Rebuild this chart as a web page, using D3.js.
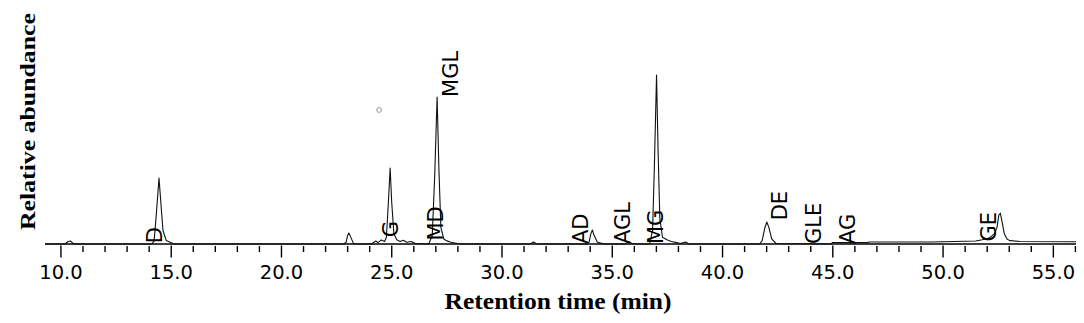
<!DOCTYPE html>
<html>
<head>
<meta charset="utf-8">
<script src="https://cdn.jsdelivr.net/npm/d3@7"></script>
<style>
    body { margin: 0; background: #fff; }
    svg { display: block; }
</style>
</head>
<body>
<svg id="chart"></svg>
<script>
// retention time (min) and relative abundance
const TIMES = [
    9.3, 10.2, 10.35, 10.45, 10.6,
    14.15, 14.25, 14.35, 14.47, 14.55, 14.65, 14.8, 15.15,
    22.85, 22.95, 23.02, 23.08, 23.15, 23.28, 23.4,
    24.1, 24.3, 24.4, 24.55, 24.7, 24.78, 24.86, 24.95, 25.02, 25.12, 25.25, 25.4, 25.55, 25.7, 25.9, 26.1,
    26.7, 26.86, 26.97, 27.08, 27.16, 27.25, 27.38, 27.5, 27.7, 28.0, 28.3,
    31.3, 31.45, 31.6,
    33.85, 33.97, 34.05, 34.12, 34.2, 34.35, 34.5, 34.7,
    35.6, 35.78, 35.95,
    36.72, 36.85, 36.93, 37.03, 37.1, 37.18, 37.3, 37.5, 37.7, 37.95, 38.1, 38.35, 38.5,
    41.7, 41.82, 41.93, 42.03, 42.12, 42.25, 42.45,
    44.95, 45.0, 46.6, 46.7, 49.5, 50.5, 51.5, 51.8, 52.1, 52.35, 52.47, 52.55, 52.62, 52.7, 52.8,
    52.92, 53.05, 53.5, 56.05
];

const ABUNDANCE = [
    0, 0, 1.5, 1.8, 0,
    0, 2, 18, 39, 25, 8, 2, 0,
    0, 1, 5, 6.5, 4.5, 0.5, 0,
    0, 1.8, 0.8, 2.4, 1.5, 4, 22, 45, 25, 6, 2.5, 1.5, 2.2, 1, 1.5, 0.3,
    0, 5, 40, 87, 45, 10, 3, 2, 1, 0.3, 0,
    0, 1.2, 0,
    0, 1, 6, 8.3, 5, 1, 0.5, 0,
    0, 1.4, 0,
    0, 8, 45, 100, 55, 15, 4, 2.5, 1.5, 0.8, 0.3, 1.2, 0,
    0, 2, 9, 13, 10, 3, 0.3,
    0, 0.8, 0.8, 1.2, 1.2, 1.5, 1.8, 2.5, 3.5, 6, 10, 17, 18.2, 13, 6,
    3, 2, 1.5, 1.3
];

// peak annotations: name, retention time, abundance where the label starts
const PEAK_NAMES = ["D", "G", "MD", "MGL", "AD", "AGL", "MG", "DE", "GLE", "AG", "GE"];
const PEAK_TIMES = [14.24, 24.96, 27.02, 27.7, 33.6, 35.48, 37.0, 42.6, 44.13, 45.68, 52.07];
const PEAK_BASES = [0.5, 4, 2, 87, 0, 0, 0, 14, 0, 0, 1.5];

const MAJOR_TICKS = [10, 15, 20, 25, 30, 35, 40, 45, 50, 55];
const TICK_LABELS = ["10.0", "15.0", "20.0", "25.0", "30.0", "35.0", "40.0", "45.0", "50.0", "55.0"];
const MINOR_TICKS = [11, 12, 13, 14, 16, 17, 18, 19, 21, 22, 23, 24, 26, 27, 28, 29,
    31, 32, 33, 34, 36, 37, 38, 39, 41, 42, 43, 44, 46, 47, 48, 49, 51, 52, 53, 54, 56];

// stray marker in the plot area
const MARKER = { time: 24.45, value: 79.3 };

const WIDTH = 1084;
const HEIGHT = 323;
const AXIS_Y = 244;

window.onload = function() {
    drawChart();
}

function drawChart() {
    var svg = d3.select("#chart")
        .attr("width", WIDTH)
        .attr("height", HEIGHT);

    var x = d3.scaleLinear().domain([9.3, 56.05]).range([45, 1076]);
    var y = d3.scaleLinear().domain([0, 100]).range([AXIS_Y, 75]);

    var points = TIMES.map(function(t, i) { return [t, ABUNDANCE[i]]; });

    // axis line
    svg.append("line")
        .attr("x1", x.range()[0])
        .attr("x2", x.range()[1])
        .attr("y1", AXIS_Y)
        .attr("y2", AXIS_Y)
        .attr("stroke", "#000")
        .attr("stroke-width", 1.4);

    // major ticks + labels
    var major = svg.append("g")
        .attr("transform", "translate(0," + (AXIS_Y + 1.5) + ")")
        .call(d3.axisBottom(x)
            .tickValues(MAJOR_TICKS)
            .tickSize(12)
            .tickFormat(function(d, i) { return TICK_LABELS[i]; }));
    major.select(".domain").remove();
    major.selectAll(".tick line")
        .attr("stroke", "#000")
        .attr("stroke-width", 1.4);
    major.selectAll(".tick text")
        .attr("y", 33)
        .attr("dy", 0)
        .attr("fill", "#000")
        .style("font-family", "'DejaVu Sans', sans-serif")
        .style("font-size", "19.5px");

    // minor ticks
    var minor = svg.append("g")
        .attr("transform", "translate(0," + (AXIS_Y + 2) + ")")
        .call(d3.axisBottom(x)
            .tickValues(MINOR_TICKS)
            .tickSize(6)
            .tickFormat(""));
    minor.select(".domain").remove();
    minor.selectAll(".tick line")
        .attr("stroke", "#000")
        .attr("stroke-width", 1.4);

    // chromatogram trace
    var line = d3.line()
        .x(function(d) { return x(d[0]); })
        .y(function(d) { return y(d[1]); });

    svg.append("path")
        .datum(points)
        .attr("fill", "none")
        .attr("stroke", "#111")
        .attr("stroke-width", 1.1)
        .attr("stroke-linejoin", "round")
        .attr("d", line);

    // peak labels, rotated
    svg.selectAll(".peak-label")
        .data(PEAK_NAMES)
        .enter()
        .append("text")
        .attr("class", "peak-label")
        .attr("transform", function(d, i) {
            return "translate(" + x(PEAK_TIMES[i]) + "," + y(PEAK_BASES[i]) + ") rotate(-90)";
        })
        .attr("dy", "0.36em")
        .attr("text-anchor", "start")
        .style("font-family", "'DejaVu Sans', sans-serif")
        .style("font-size", "21px")
        .attr("fill", "#000")
        .text(function(d) { return d; });

    // small grey circle
    svg.append("circle")
        .attr("cx", x(MARKER.time))
        .attr("cy", y(MARKER.value))
        .attr("r", 2.4)
        .attr("fill", "none")
        .attr("stroke", "#999")
        .attr("stroke-width", 1);

    // axis titles
    svg.append("text")
        .attr("x", 558)
        .attr("y", 309)
        .attr("text-anchor", "middle")
        .attr("textLength", 227)
        .attr("lengthAdjust", "spacingAndGlyphs")
        .style("font-family", "'Liberation Serif', 'Times New Roman', serif")
        .style("font-weight", "bold")
        .style("font-size", "24px")
        .text("Retention  time (min)");

    svg.append("text")
        .attr("transform", "translate(35,121.5) rotate(-90)")
        .attr("text-anchor", "middle")
        .attr("textLength", 217)
        .attr("lengthAdjust", "spacingAndGlyphs")
        .style("font-family", "'Liberation Serif', 'Times New Roman', serif")
        .style("font-weight", "bold")
        .style("font-size", "22px")
        .text("Relative abundance");
}
</script>
</body>
</html>
